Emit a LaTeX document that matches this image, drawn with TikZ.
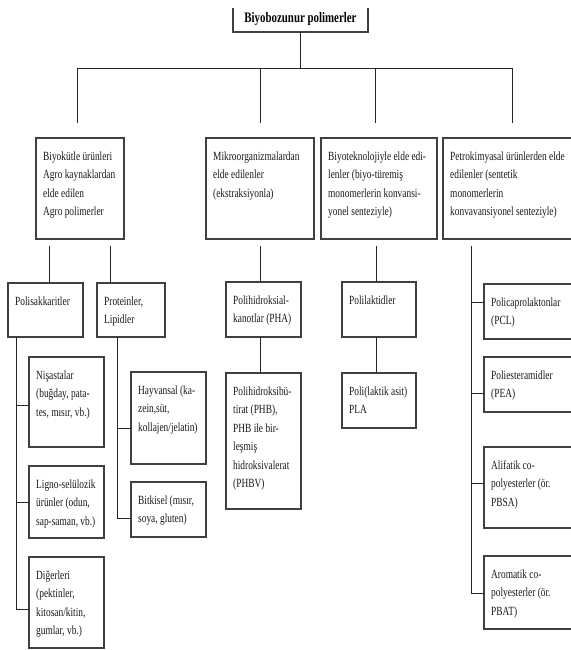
\documentclass[tikz,border=0pt]{standalone}
\usepackage{fontspec}
\setmainfont{Liberation Serif}[FakeStretch=0.75]
\tikzset{
  box/.style={draw=black!75, line width=1.2pt, inner sep=0pt, outer sep=0pt},
  ln/.style={draw=black!85, line width=0.9pt},
  txt/.style={inner sep=0pt, anchor=base west, text=black!90, font=\fontsize{12.5}{18.5}\selectfont},
}
\newcommand{\bx}[6]{%
  \node[box, anchor=north west, minimum width={(#4)-(#2)}, minimum height={(#5)-(#3)}] (#1) at (#2,#3) {};
  \node[txt] (#1-t) at ([xshift=7pt,yshift=-22pt]#1.north west) {\parbox[t]{200pt}{\raggedright #6}};%
}
\begin{document}
\begin{tikzpicture}[x=1pt,y=-1pt]
\useasboundingbox (0,0) rectangle (570,650);
\fill[white] (0,0) rectangle (570,650);
% title
\node[inner sep=0pt, outer sep=0pt, minimum width=135pt, minimum height=24pt, anchor=north west] (top) at (233,8) {};
\draw[box] (top.north west) |- (top.south east) -- (top.north east);
\node[anchor=base, inner sep=0pt, font=\fontsize{14.5}{17}\selectfont\bfseries] (top-t) at (300.5,23) {Biyobozunur polimerler};
% level 1
\bx{bio}{36}{138}{124}{239}{Biyokütle ürünleri\\Agro kaynaklardan\\elde edilen\\Agro polimerler}
\bx{mik}{206}{138}{314}{239}{Mikroorganizmalardan\\elde edilenler\\(ekstraksiyonla)}
\bx{bt}{321}{138}{437}{239}{Biyoteknolojiyle elde edi-\\lenler (biyo-türemiş\\monomerlerin konvansi-\\yonel senteziyle)}
\bx{pk}{443}{138}{578}{239}{Petrokimyasal ürünlerden elde\\edilenler (sentetik\\monomerlerin\\konvavansiyonel senteziyle)}
% level 2
\bx{pol}{8}{283}{83}{337}{Polisakkaritler}
\bx{pro}{97}{283}{165}{337}{Proteinler,\\Lipidler}
\bx{pha}{226}{282}{301}{337}{Polihidroksial-\\kanotlar (PHA)}
\bx{pll}{342}{282}{416}{337}{Polilaktidler}
\bx{pcl}{484}{284}{578}{339}{Policaprolaktonlar\\(PCL)}
\bx{pea}{484}{357}{578}{412}{Poliesteramidler\\(PEA)}
\bx{ali}{484}{447}{578}{528}{Alifatik co-\\polyesterler (ör.\\PBSA)}
\bx{aro}{484}{556}{578}{629}{Aromatik co-\\polyesterler (ör.\\PBAT)}
% level 3
\bx{nis}{29}{357}{104}{447}{Nişastalar\\(buğday, pata-\\tes, mısır, vb.)}
\bx{lig}{29}{466}{104}{538}{Ligno-selülozik\\ürünler (odun,\\sap-saman, vb.)}
\bx{dig}{29}{557}{104}{648}{Diğerleri\\(pektinler,\\kitosan/kitin,\\gumlar, vb.)}
\bx{hay}{131}{372}{206}{464}{Hayvansal (ka-\\zein,süt,\\kollajen/jelatin)}
\bx{bit}{131}{482}{206}{537}{Bitkisel (mısır,\\soya, gluten)}
\bx{phb}{226}{373}{301}{509}{Polihidroksibü-\\tirat (PHB),\\PHB ile bir-\\leşmiş\\hidroksivalerat\\(PHBV)}
\bx{pla}{342}{373}{416}{428}{Poli(laktik asit)\\PLA}
% top connectors
\coordinate (hc) at (300.5,68);
\coordinate (hl) at (77,68);
\coordinate (hb) at (260,68);
\coordinate (hcc) at (375,68);
\coordinate (hr) at (512,68);
\coordinate (dA) at (77,123);
\coordinate (dB) at (260,123);
\coordinate (dC) at (375,123);
\coordinate (dD) at (512,123);
\draw[ln] (top.south) -- (hc);
\draw[ln] (hl) -- (hr);
\draw[ln] (hl) -- (dA);
\draw[ln] (hb) -- (dB);
\draw[ln] (hcc) -- (dC);
\draw[ln] (hr) -- (dD);
% below level 1
\coordinate (a1) at (49,246);
\coordinate (a2) at (110,246);
\coordinate (b1) at (260,246);
\coordinate (c1) at (376,246);
\coordinate (s0) at (471,246);
\draw[ln] (a1) -- (pol.north -| a1);
\draw[ln] (a2) -- (pro.north -| a2);
\draw[ln] (b1) -- (pha.north -| b1);
\draw[ln] (c1) -- (pll.north -| c1);
% petrochemical spine
\coordinate (sD1) at (471,302);
\coordinate (sD2) at (471,393);
\coordinate (sD3) at (471,483);
\coordinate (sD4) at (471,593);
\draw[ln] (s0) -- (sD4);
\draw[ln] (sD1) -- (pcl.west |- sD1);
\draw[ln] (sD2) -- (pea.west |- sD2);
\draw[ln] (sD3) -- (ali.west |- sD3);
\draw[ln] (sD4) -- (aro.west |- sD4);
% polysaccharide spine
\coordinate (sP1) at (16,405);
\coordinate (sP2) at (16,502);
\coordinate (sP3) at (16,609);
\draw[ln] (pol.south -| sP1) -- (sP3);
\draw[ln] (sP1) -- (nis.west |- sP1);
\draw[ln] (sP2) -- (lig.west |- sP2);
\draw[ln] (sP3) -- (dig.west |- sP3);
% protein spine
\coordinate (sQ1) at (117,428);
\coordinate (sQ2) at (117,518);
\draw[ln] (pro.south -| sQ1) -- (sQ2);
\draw[ln] (sQ1) -- (hay.west |- sQ1);
\draw[ln] (sQ2) -- (bit.west |- sQ2);
% PHA and PLA
\draw[ln] (pha.south -| b1) -- (phb.north -| b1);
\draw[ln] (pll.south -| c1) -- (pla.north -| c1);
\end{tikzpicture}
\end{document}
